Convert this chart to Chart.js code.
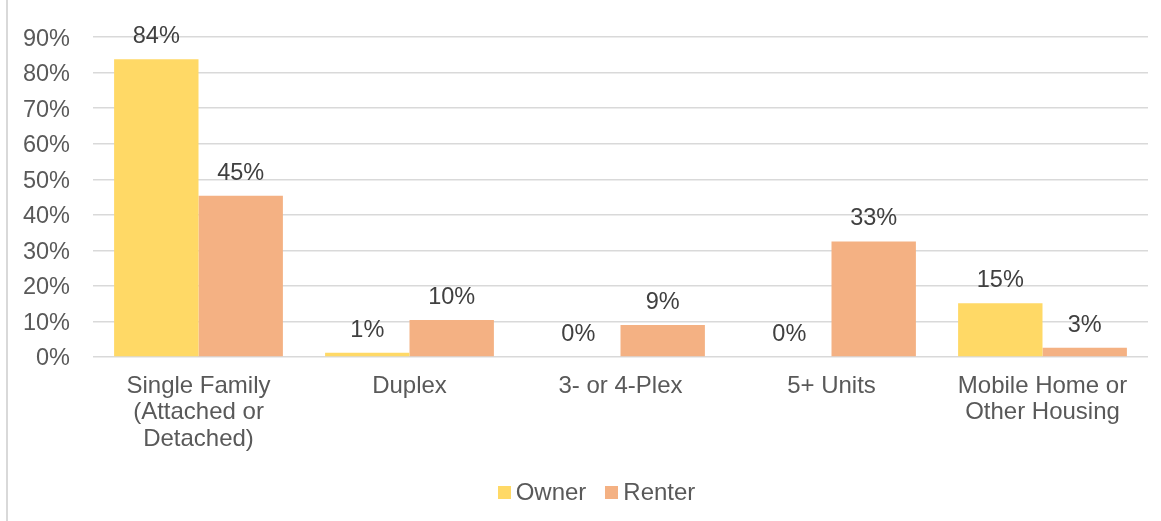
<!DOCTYPE html>
<html><head><meta charset="utf-8">
<script src="https://cdn.jsdelivr.net/npm/chart.js@4.4.1/dist/chart.umd.min.js"></script>
<style>html,body{margin:0;padding:0;background:#fff;overflow:hidden}#wrap{position:relative;width:1161px;height:521px}</style>
</head><body><div id="wrap"><canvas id="c" width="1161" height="521"></canvas></div>
<script>
const categories = [["Single Family","(Attached or","Detached)"], "Duplex", "3- or 4-Plex", "5+ Units", ["Mobile Home or","Other Housing"]];
const seriesNames = ["Owner", "Renter"];
const ownerValues = [83.8, 1.2, 0, 0, 15.1];
const renterValues = [45.4, 10.4, 9.0, 32.5, 2.6];
const yMin = 0, yMax = 90, yStep = 10;

const FONT = '"Liberation Sans", Arial, sans-serif';
const AXIS_COLOR = '#595959';

const leftBorder = {
  id: 'leftBorder',
  beforeDraw(chart) {
    const ctx = chart.ctx;
    ctx.save();
    ctx.fillStyle = '#ffffff';
    ctx.fillRect(0, 0, chart.width, chart.height);
    ctx.fillStyle = '#d9d9d9';
    ctx.fillRect(6, 0, 2, chart.height);
    ctx.restore();
  }
};

const valueLabels = {
  id: 'valueLabels',
  afterDatasetsDraw(chart) {
    const ctx = chart.ctx;
    ctx.save();
    ctx.font = '23.5px ' + FONT;
    ctx.fillStyle = '#404040';
    ctx.textAlign = 'center';
    ctx.textBaseline = 'alphabetic';
    chart.data.datasets.forEach((ds, i) => {
      chart.getDatasetMeta(i).data.forEach((bar, j) => {
        ctx.fillText(Math.round(ds.data[j]) + '%', bar.x, bar.y - 16);
      });
    });
    ctx.restore();
  }
};

// Legend drawn to match the original's compact box/text spacing
const compactLegend = {
  id: 'compactLegend',
  afterDraw(chart) {
    const ctx = chart.ctx;
    ctx.save();
    ctx.font = '24px ' + FONT;
    ctx.textBaseline = 'middle';
    ctx.textAlign = 'left';
    const box = 13, gap = 5, itemGap = 19;
    const items = chart.data.datasets.map(ds => ({ text: ds.label, color: ds.backgroundColor, w: ctx.measureText(ds.label).width }));
    let total = 0;
    items.forEach((it, i) => { total += box + gap + it.w + (i ? itemGap : 0); });
    const cx = (chart.chartArea.left + chart.chartArea.right) / 2 - 24;
    let x = cx - total / 2;
    const yc = 492;
    items.forEach((it, i) => {
      if (i) x += itemGap;
      ctx.fillStyle = it.color;
      ctx.fillRect(Math.round(x), yc - 6, box, box);
      x += box + gap;
      ctx.fillStyle = AXIS_COLOR;
      ctx.fillText(it.text, x, yc + 1);
      x += it.w;
    });
    ctx.restore();
  }
};

new Chart(document.getElementById('c'), {
  type: 'bar',
  data: {
    labels: categories,
    datasets: [
      { label: seriesNames[0], data: ownerValues, backgroundColor: '#FFD966', borderWidth: 0 },
      { label: seriesNames[1], data: renterValues, backgroundColor: '#F4B183', borderWidth: 0 }
    ]
  },
  options: {
    responsive: false,
    animation: false,
    devicePixelRatio: 1,
    layout: { padding: { left: 0, right: 13, top: 35, bottom: 51 } },
    datasets: { bar: { categoryPercentage: 0.8, barPercentage: 1.0 } },
    plugins: {
      title: { display: false },
      tooltip: { enabled: false },
      legend: { display: false }
    },
    scales: {
      x: {
        grid: { display: false, drawTicks: false },
        border: { display: false },
        ticks: {
          color: AXIS_COLOR, padding: 16, maxRotation: 0, autoSkip: false,
          font: { family: FONT, size: 24, lineHeight: 1.1 }
        },
        afterFit(s) { s.height = 113; }
      },
      y: {
        min: yMin, max: yMax,
        grid: { color: '#d9d9d9', lineWidth: 1.5, drawTicks: false },
        border: { display: false },
        ticks: {
          stepSize: yStep, padding: 23, color: AXIS_COLOR, labelOffset: 2,
          font: { family: FONT, size: 23.5 },
          callback: v => v + '%'
        },
        afterFit(s) { s.width = 93; }
      }
    }
  },
  plugins: [leftBorder, valueLabels, compactLegend]
});
</script></body></html>
